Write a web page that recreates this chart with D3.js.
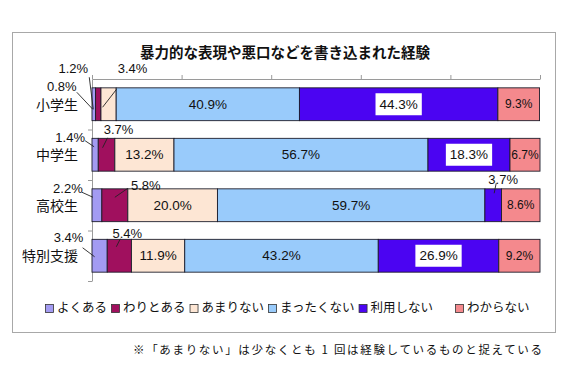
<!DOCTYPE html>
<html>
<head>
<meta charset="utf-8">
<script src="https://cdn.jsdelivr.net/npm/d3@7"></script>
<style>
  body { margin: 0; background: #fff; }
</style>
</head>
<body>
<div id="chart"></div>
<script>
// data
const categories = ["小学生", "中学生", "高校生", "特別支援"];
const seriesNames = ["よくある", "わりとある", "あまりない", "まったくない", "利用しない", "わからない"];
const yokuAru = [0.8, 1.4, 2.2, 3.4];
const waritoAru = [1.2, 3.7, 5.8, 5.4];
const amariNai = [3.4, 13.2, 20.0, 11.9];
const mattakuNai = [40.9, 56.7, 59.7, 43.2];
const riyouShinai = [44.3, 18.3, 3.7, 26.9];
const wakaranai = [9.3, 6.7, 8.6, 9.2];
const xTicks = [0, 20, 40, 60, 80, 100];

const title = "暴力的な表現や悪口などを書き込まれた経験";
const footnote = "※「あまりない」は少なくとも 1 回は経験しているものと捉えている";

const colors = ["#a39bf2", "#a0105e", "#fde6d4", "#99cbfb", "#4b04f2", "#f4898d"];

// small segments get a label outside with a leader line
// (offsets relative to the segment centre)
const callouts = [
  { row: 0, s: 0, dx: -32, dy: -18, l: [-17, -12, -1, 5] },
  { row: 0, s: 1, dx: -25, dy: -36, l: [-9, -27, -5, 5] },
  { row: 0, s: 2, dx: 24, dy: -36, l: [8, -15, -6, 3] },
  { row: 1, s: 0, dx: -25, dy: -17, l: [-10, -14, -1, -8] },
  { row: 1, s: 1, dx: 12, dy: -25, l: [1, -17, -4, -7] },
  { row: 2, s: 0, dx: -29, dy: -17, l: [-15, -13, -4, -8] },
  { row: 2, s: 1, dx: 31, dy: -20, l: [13, -17, 0, -8] },
  { row: 2, s: 4, dx: 10, dy: -26, l: [3, -22, 1, -12] },
  { row: 3, s: 0, dx: -31, dy: -18, l: [-17, -8, -5, 1] },
  { row: 3, s: 1, dx: 8, dy: -22, l: [1, -17, -3, -9] }
];

const width = 574, height = 376;
const plotLeft = 92, plotRight = 540, plotTop = 79, plotBottom = 281;
const jp = "'Noto Sans CJK JP', 'Noto Sans', sans-serif";
const num = "'Liberation Sans', Arial, Helvetica, sans-serif";

const seriesValues = [yokuAru, waritoAru, amariNai, mattakuNai, riyouShinai, wakaranai];
const table = categories.map((c, i) => {
  const row = { cat: c };
  seriesNames.forEach((s, j) => row[s] = seriesValues[j][i]);
  return row;
});
const stacked = d3.stack().keys(seriesNames)(table);

const x = d3.scaleLinear([0, 100], [plotLeft, plotRight]);
const y = d3.scaleBand(categories, [plotTop, plotBottom]).paddingInner(0.35).paddingOuter(0.175);
const yEdges = d3.scaleLinear([0, categories.length], [plotTop, plotBottom]);

const svg = d3.select("#chart").append("svg")
  .attr("width", width)
  .attr("height", height)
  .attr("viewBox", [0, 0, width, height]);

svg.append("rect").attr("width", width).attr("height", height).attr("fill", "#fff");

// chart frame
svg.append("rect")
  .attr("x", 12.5).attr("y", 32.5)
  .attr("width", 543).attr("height", 300)
  .attr("fill", "none")
  .attr("stroke", "#a8a8a8");

svg.append("text")
  .attr("x", 285).attr("y", 58)
  .attr("text-anchor", "middle")
  .attr("font-family", jp)
  .attr("font-weight", "bold")
  .attr("font-size", 14.5)
  .attr("fill", "#111")
  .text(title);

// axes
svg.append("g")
  .attr("transform", `translate(0,${plotTop})`)
  .call(d3.axisTop(x).tickValues(xTicks).tickSize(4).tickSizeOuter(0).tickFormat(""))
  .call(g => g.selectAll("line,path").attr("stroke", "#9a9a9a"));

svg.append("g")
  .attr("transform", `translate(${plotLeft},0)`)
  .call(d3.axisLeft(yEdges).tickValues([1, 2, 3, 4]).tickSize(4).tickSizeOuter(0).tickFormat(""))
  .call(g => g.selectAll("line,path").attr("stroke", "#9a9a9a"));

svg.append("g")
  .selectAll("text")
  .data(categories)
  .join("text")
  .attr("x", 78)
  .attr("y", d => y(d) + y.bandwidth() / 2 + 1.5)
  .attr("text-anchor", "end")
  .attr("dominant-baseline", "middle")
  .attr("font-family", jp)
  .attr("font-size", 14)
  .attr("fill", "#111")
  .text(d => d);

// bars
svg.append("g")
  .selectAll("g")
  .data(stacked)
  .join("g")
  .attr("fill", (d, i) => colors[i])
  .selectAll("rect")
  .data(d => d)
  .join("rect")
  .attr("x", d => x(d[0]))
  .attr("y", d => y(d.data.cat))
  .attr("width", d => x(d[1]) - x(d[0]))
  .attr("height", y.bandwidth())
  .attr("stroke", "#1c1c2a")
  .attr("stroke-width", 0.9);

const fmt = v => v.toFixed(1) + "%";
const isCallout = (r, s) => callouts.some(c => c.row === r && c.s === s);

// labels inside the bars
const inner = svg.append("g");
stacked.forEach((ser, s) => {
  ser.forEach((d, r) => {
    const v = d[1] - d[0];
    if (isCallout(r, s)) return;
    const cx = (x(d[0]) + x(d[1])) / 2;
    const cy = y(d.data.cat) + y.bandwidth() / 2;
    const t = inner.append("text")
      .attr("x", cx).attr("y", cy + 1)
      .attr("text-anchor", "middle")
      .attr("dominant-baseline", "middle")
      .attr("font-family", num)
      .attr("font-size", s === 5 ? 12 : 13.5)
      .attr("fill", "#111")
      .text(fmt(v));
    if (s === 4) {
      const b = t.node().getBBox();
      inner.insert("rect", () => t.node())
        .attr("x", b.x - 4).attr("y", cy - 11)
        .attr("width", b.width + 8).attr("height", 22)
        .attr("fill", "#fff");
    }
  });
});

// outside labels with leader lines
const outer = svg.append("g");
callouts.forEach(c => {
  const d = stacked[c.s][c.row];
  const cx = (x(d[0]) + x(d[1])) / 2;
  const cy = y(d.data.cat) + y.bandwidth() / 2;
  outer.append("line")
    .attr("x1", cx + c.l[0]).attr("y1", cy + c.l[1])
    .attr("x2", cx + c.l[2]).attr("y2", cy + c.l[3])
    .attr("stroke", "#222")
    .attr("stroke-width", 0.9);
  outer.append("text")
    .attr("x", cx + c.dx).attr("y", cy + c.dy + 1)
    .attr("text-anchor", "middle")
    .attr("dominant-baseline", "middle")
    .attr("font-family", num)
    .attr("font-size", 13)
    .attr("fill", "#111")
    .text(fmt(d[1] - d[0]));
});

// legend
const legend = svg.append("g").attr("transform", "translate(45,309)");
let lx = 0;
seriesNames.forEach((name, i) => {
  if (i === seriesNames.length - 1) lx += 18;
  const item = legend.append("g").attr("transform", `translate(${lx},0)`);
  item.append("rect")
    .attr("x", 0.5).attr("y", -4.5)
    .attr("width", 8).attr("height", 8)
    .attr("fill", colors[i])
    .attr("stroke", "#333")
    .attr("stroke-width", 0.8);
  const t = item.append("text")
    .attr("x", 12).attr("y", 0)
    .attr("dominant-baseline", "middle")
    .attr("font-family", jp)
    .attr("font-size", 12.5)
    .attr("fill", "#111")
    .text(name);
  lx += 12 + t.node().getComputedTextLength() + 4;
});

svg.append("text")
  .attr("x", 133).attr("y", 351)
  .attr("dominant-baseline", "middle")
  .attr("font-family", jp)
  .attr("font-size", 11.5)
  .attr("textLength", 409)
  .attr("lengthAdjust", "spacing")
  .attr("fill", "#111")
  .text(footnote);
</script>
</body>
</html>
